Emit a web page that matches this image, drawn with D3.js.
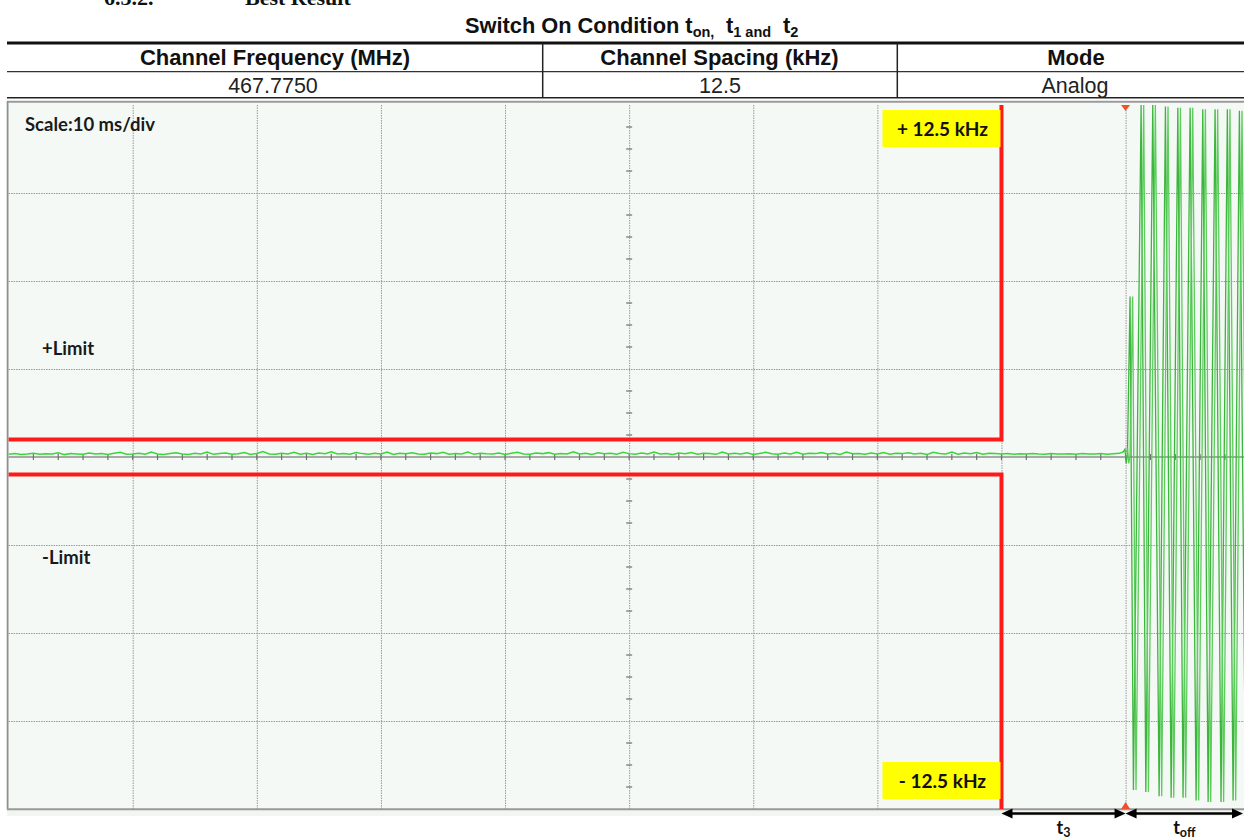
<!DOCTYPE html>
<html><head><meta charset="utf-8">
<script src="https://cdn.jsdelivr.net/npm/d3@7"></script>
<style>
html,body{margin:0;padding:0;background:#fff;}
svg{display:block;}
text{white-space:pre;}
</style></head>
<body>
<script>
// ---------------- DATA ----------------
const tableHeaders = ["Channel Frequency (MHz)", "Channel Spacing (kHz)", "Mode"];
const tableValues  = ["467.7750", "12.5", "Analog"];
const xGridTicks = [0,10,20,30,40,50,60,70,80,90,100];            // ms
const yGridTicks = [-25,-18.75,-12.5,-6.25,0,6.25,12.5,18.75,25];   // kHz
const xMinorTicks = [2,4,6,8,12,14,16,18,22,24,26,28,32,34,36,38,42,44,46,48,52,54,56,58,62,64,66,68,72,74,76,78,82,84,86,88,92,94,96,98];
const yMinorTicks = [-23.4375,-21.875,-20.3125,-17.1875,-15.625,-14.0625,-10.9375,-9.375,-7.8125,-4.6875,-3.125,-1.5625,1.5625,3.125,4.6875,7.8125,9.375,10.9375,14.0625,15.625,17.1875,20.3125,21.875,23.4375];
const limitUpper = [[0,1.25],[80,1.25],[80,25]];
const limitLower = [[0,-1.25],[80,-1.25],[80,-25]];
const noiseStep = 0.5; // ms between noise samples, from 0 ms
const noiseValues = [
0.20,0.24,0.18,0.22,0.27,0.19,0.23,0.21,0.30,0.17,
0.25,0.22,0.19,0.28,0.21,0.24,0.18,0.26,0.33,0.20,
0.22,0.27,0.19,0.35,0.21,0.18,0.25,0.30,0.22,0.17,
0.26,0.21,0.36,0.19,0.24,0.28,0.20,0.23,0.31,0.18,
0.25,0.38,0.21,0.19,0.27,0.22,0.34,0.20,0.26,0.18,
0.29,0.23,0.37,0.21,0.25,0.19,0.32,0.24,0.20,0.27,
0.22,0.35,0.18,0.26,0.23,0.30,0.21,0.19,0.28,0.24,
0.33,0.20,0.25,0.22,0.36,0.19,0.27,0.23,0.21,0.29,
0.18,0.26,0.34,0.22,0.20,0.28,0.24,0.31,0.19,0.25,
0.22,0.37,0.21,0.26,0.18,0.30,0.23,0.27,0.20,0.33,
0.24,0.19,0.28,0.22,0.35,0.21,0.25,0.18,0.29,0.23,
0.32,0.20,0.26,0.24,0.19,0.36,0.22,0.27,0.21,0.30,
0.18,0.25,0.33,0.23,0.20,0.28,0.22,0.34,0.19,0.26,
0.24,0.31,0.21,0.27,0.18,0.35,0.23,0.25,0.20,0.29,
0.22,0.32,0.19,0.26,0.24,0.30,0.21,0.27,0.18,0.33,
0.25,0.22,0.36,0.20,0.28,0.23,0.31,0.19,0.26,0.24,
0.21,0.24,0.20,0.23,0.22,0.25,0.21,0.20,0.24,0.22,
0.21,0.23,0.20,0.25,0.22,0.21,0.24,0.20,0.23,0.26];
const switchOnTimes  = [89.8,89.95,90.05,90.15,90.36,90.63,91.25,91.63,92.19,92.70,93.21,93.67,94.21,94.63,95.20,95.68,96.22,96.65,97.21,97.69,98.20,98.66,99.17,99.67,100.2];
const switchOnValues = [0.35,0.55,-0.45,0.2,11.4,-23.65,25,-23.8,25,-24.1,24.9,-24.2,24.8,-24.2,24.8,-24.4,24.7,-24.5,24.7,-24.5,24.7,-24.4,24.6,-24.4,24.6];
const markerTime = 90;
const arrowSpans = [{from:80,to:90,label:"t",sub:"3"},{from:90,to:99.6,label:"t",sub:"off"}];

// ---------------- DRAW ----------------
const W = 1244, H = 839;
const svg = d3.select("body").append("svg").attr("width",W).attr("height",H);

// section heading, cut off at the top edge as in the reference
svg.append("text").attr("x",104).attr("y",5).attr("font-family","Liberation Serif").attr("font-weight","bold").attr("font-size",22).attr("fill","#111").text("6.3.2.");
svg.append("text").attr("x",245).attr("y",5).attr("font-family","Liberation Serif").attr("font-weight","bold").attr("font-size",22).attr("fill","#111").text("Best Result");

// title
const title = svg.append("text").attr("y",33).attr("font-family","Liberation Sans, Arial").attr("font-weight","bold").attr("font-size",21.8).attr("fill","#111");
title.append("tspan").attr("x",465).text("Switch On Condition t");
title.append("tspan").attr("font-size",14.5).attr("dy",4).text("on,");
title.append("tspan").attr("x",726).attr("dy",-4).text("t");
title.append("tspan").attr("font-size",14.5).attr("dy",4).text("1 and");
title.append("tspan").attr("x",783).attr("dy",-4).text("t");
title.append("tspan").attr("font-size",14.5).attr("dy",4).text("2");

// table
const colEdges = [7, 542.7, 897.3, 1256];
const colCenters = [275, 719.5, 1076];
svg.append("line").attr("x1",7).attr("x2",W).attr("y1",43).attr("y2",43).attr("stroke","#111").attr("stroke-width",3);
svg.append("line").attr("x1",7).attr("x2",W).attr("y1",71.7).attr("y2",71.7).attr("stroke","#333").attr("stroke-width",1.3);
svg.append("line").attr("x1",7).attr("x2",W).attr("y1",97.7).attr("y2",97.7).attr("stroke","#222").attr("stroke-width",1.6);
[colEdges[1],colEdges[2]].forEach(cx=>{
  svg.append("line").attr("x1",cx).attr("x2",cx).attr("y1",43).attr("y2",98).attr("stroke","#222").attr("stroke-width",1.5);
});
svg.selectAll("text.hdr").data(tableHeaders).join("text").attr("class","hdr")
  .attr("x",(d,i)=>colCenters[i]).attr("y",65).attr("text-anchor","middle")
  .attr("font-family","Liberation Sans, Arial").attr("font-weight","bold").attr("font-size",22).attr("fill","#111").text(d=>d);
svg.selectAll("text.val").data(tableValues).join("text").attr("class","val")
  .attr("x",(d,i)=>[273,720,1075][i]).attr("y",93).attr("text-anchor","middle")
  .attr("font-family","Liberation Sans, Arial").attr("font-size",21.5).attr("fill","#222").text(d=>d);

// scales
const x = d3.scaleLinear().domain([0,100]).range([8.6,1249.7]);
const y = d3.scaleLinear().domain([-25,25]).range([809,105]);

// plot background + borders
svg.append("rect").attr("x",7).attr("y",102).attr("width",W-7).attr("height",809-102).attr("fill","#f5f9f6");
svg.append("rect").attr("x",7).attr("y",810).attr("width",W-7).attr("height",6).attr("fill","#f2f6f2");

const defs = svg.append("defs");
defs.append("clipPath").attr("id","plotclip").append("rect").attr("x",8).attr("y",103).attr("width",W-8).attr("height",706);

const grid = svg.append("g");
grid.append("g").attr("transform",`translate(0,${y(-25)})`)
  .call(d3.axisBottom(x).tickValues(xGridTicks.filter(t=>t>0&&t<100)).tickSize(-(y(-25)-y(25))).tickFormat(""))
  .call(g=>g.select(".domain").remove())
  .call(g=>g.selectAll("line").attr("stroke","#9a9a9a").attr("stroke-width",1).attr("stroke-dasharray","1.5,1"));
grid.append("g").attr("transform",`translate(${x(0)},0)`)
  .call(d3.axisLeft(y).tickValues(yGridTicks.filter(t=>t>-25&&t<25&&t!==0)).tickSize(-(W-x(0))).tickFormat(""))
  .call(g=>g.select(".domain").remove())
  .call(g=>g.selectAll("line").attr("stroke","#9a9a9a").attr("stroke-width",1).attr("stroke-dasharray","1.5,1"));

// center horizontal axis (solid) with minor ticks
svg.append("line").attr("x1",x(0)).attr("x2",W).attr("y1",y(0)).attr("y2",y(0)).attr("stroke","#8c8c8c").attr("stroke-width",1.3);
svg.selectAll("line.xminor").data(xMinorTicks.concat(xGridTicks.filter(t=>t>0&&t<100))).join("line").attr("class","xminor")
  .attr("x1",d=>x(d)).attr("x2",d=>x(d)).attr("y1",y(0)-3).attr("y2",y(0)+3).attr("stroke","#707070").attr("stroke-width",1.2);
svg.selectAll("line.yminor").data(yMinorTicks).join("line").attr("class","yminor")
  .attr("x1",x(50)-3).attr("x2",x(50)+3).attr("y1",d=>y(d)).attr("y2",d=>y(d)).attr("stroke","#707070").attr("stroke-width",1.2);

// borders
svg.append("line").attr("x1",7).attr("x2",W).attr("y1",101.8).attr("y2",101.8).attr("stroke","#9a9a9a").attr("stroke-width",2);
svg.append("line").attr("x1",7.6).attr("x2",7.6).attr("y1",101).attr("y2",809.5).attr("stroke","#8f8f8f").attr("stroke-width",1.8);
svg.append("line").attr("x1",7).attr("x2",W).attr("y1",809.2).attr("y2",809.2).attr("stroke","#999").attr("stroke-width",2);

// text annotations in plot
const calibri = "Lato, Carlito, Calibri, sans-serif";
svg.append("text").attr("x",25).attr("y",131).attr("font-family",calibri).attr("font-weight","bold").attr("font-size",18.5).attr("fill","#1a1a1a").text("Scale:10 ms/div");
svg.append("text").attr("x",42).attr("y",355).attr("font-family",calibri).attr("font-weight","bold").attr("font-size",18.5).attr("fill","#1a1a1a").text("+Limit");
svg.append("text").attr("x",42).attr("y",564).attr("font-family",calibri).attr("font-weight","bold").attr("font-size",18.5).attr("fill","#1a1a1a").text("-Limit");

// signal trace
const line = d3.line().x(d=>x(d[0])).y(d=>y(d[1]));
const plot = svg.append("g").attr("clip-path","url(#plotclip)");
const noisePts = noiseValues.map((v,i)=>[i*noiseStep, v]);
const wavePts = switchOnTimes.map((t,i)=>[t, switchOnValues[i]]);
plot.append("path").datum(noisePts.concat([wavePts[0]])).attr("d",line).attr("fill","none").attr("stroke","#36d836").attr("stroke-width",1.5);
// the scope draws the tone as a double trace: two parallel strokes
[0, 2.6].forEach((dx,k)=>{
  plot.append("path").datum(wavePts).attr("d",line).attr("transform",`translate(${dx},0)`)
    .attr("fill","none").attr("stroke",k===0?"#3cb53c":"#5ccc5c").attr("stroke-width",1.3).attr("stroke-linejoin","miter");
});

// red limit lines
[limitUpper, limitLower].forEach(pts=>{
  plot.append("path").datum(pts).attr("d",line).attr("fill","none").attr("stroke","#ff1a1a").attr("stroke-width",4).attr("stroke-linejoin","miter");
});

// yellow labels
const lab = [{v:25, off:5, text:"+ 12.5 kHz"},{v:-25, off:-47, text:"- 12.5 kHz"}];
lab.forEach(l=>{
  const top = y(l.v)+l.off;
  svg.append("rect").attr("x",x(80)-119).attr("y",top).attr("width",118).attr("height",37).attr("fill","#ffff00");
  svg.append("text").attr("x",x(80)-59).attr("y",top+26).attr("text-anchor","middle").attr("font-family",calibri).attr("font-weight","bold").attr("font-size",19).attr("fill","#111").text(l.text);
});

// markers
const mx = x(markerTime);
svg.append("path").attr("d",`M${mx-4.5},${y(25)} L${mx+4.5},${y(25)} L${mx},${y(25)+6} Z`).attr("fill","#f0502a");
svg.append("path").attr("d",`M${mx-4.5},${y(-25)} L${mx+4.5},${y(-25)} L${mx},${y(-25)-7} Z`).attr("fill","#f0502a");

// arrows
const ay = 813.5;
arrowSpans.forEach(a=>{
  const x1 = x(a.from), x2 = Math.min(x(a.to), W-1);
  svg.append("line").attr("x1",x1+4).attr("x2",x2-4).attr("y1",ay).attr("y2",ay).attr("stroke","#000").attr("stroke-width",2.5);
  svg.append("path").attr("d",`M${x1},${ay} L${x1+11},${ay-5} L${x1+11},${ay+5} Z`).attr("fill","#000");
  svg.append("path").attr("d",`M${x2},${ay} L${x2-11},${ay-5} L${x2-11},${ay+5} Z`).attr("fill","#000");
  const t = svg.append("text").attr("x",(x1+x2)/2).attr("y",834).attr("text-anchor","middle").attr("font-family",calibri).attr("font-weight","bold").attr("font-size",18).attr("fill","#111");
  t.append("tspan").text(a.label);
  t.append("tspan").attr("font-size",12.5).attr("dy",3).text(a.sub);
});
</script>
</body></html>
